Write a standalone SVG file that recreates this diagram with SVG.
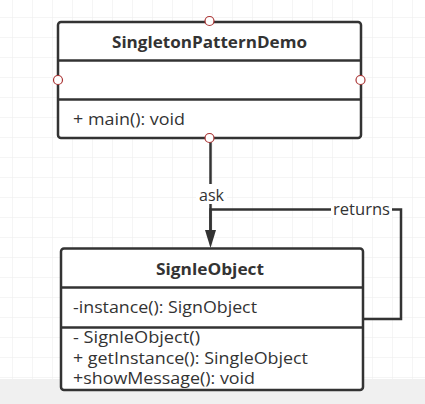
<svg xmlns="http://www.w3.org/2000/svg" width="425" height="404" viewBox="0 0 425 404">
<defs>
<pattern id="grid" x="12" y="17" width="20" height="20" patternUnits="userSpaceOnUse">
<path d="M0 0H20M0 0V20" fill="none" stroke="#ebebeb" stroke-width="1"/>
</pattern>
<marker id="arrow" markerWidth="18" markerHeight="11" refX="0" refY="5.5" orient="auto" markerUnits="userSpaceOnUse" viewBox="0 0 18 11">
<path d="M0 0L18 5.5L0 11Z" fill="#333"/>
</marker>
<style>
.box{fill:#fff;stroke:#333;stroke-width:2.5}
.div{stroke:#333;stroke-width:2.5}
.title{font-family:"Open Sans","Noto Sans",sans-serif;font-weight:bold;font-size:16.5px;fill:#333;text-anchor:middle}
.txt{font-family:"Open Sans","Noto Sans",sans-serif;font-size:16px;fill:#333}
.lbl{font-family:"Open Sans","Noto Sans",sans-serif;font-size:16.5px;fill:#333;text-anchor:middle}
.pt{fill:#fff;stroke:#a33;stroke-width:1.2}
.conn{fill:none;stroke:#333;stroke-width:2.5}
</style>
</defs>
<rect width="425" height="404" fill="#fff"/>
<rect width="425" height="379" fill="url(#grid)"/>
<rect y="379" width="425" height="25" fill="#f0f0f0"/>
<g id="connectors">
<path class="conn" d="M210.5 138V230" marker-end="url(#arrow)"/>
<path class="conn" d="M363 319H401V209.5H210.5V230"/>
<rect x="196" y="184" width="31" height="20" fill="#fff"/>
<text class="lbl" x="211.5" y="201" textLength="25" lengthAdjust="spacingAndGlyphs">ask</text>
<rect x="331" y="200" width="61" height="18" fill="#fff"/>
<text class="lbl" x="361.5" y="215" textLength="57" lengthAdjust="spacingAndGlyphs">returns</text>
</g>
<g id="SingletonPatternDemo">
<rect class="box" x="58" y="22" width="303" height="116" rx="3"/>
<line class="div" x1="58" y1="60.5" x2="361" y2="60.5"/>
<line class="div" x1="58" y1="99.5" x2="361" y2="99.5"/>
<text class="title" x="209.5" y="47.5" textLength="195" lengthAdjust="spacingAndGlyphs">SingletonPatternDemo</text>
<text class="txt" x="73" y="125" textLength="112" lengthAdjust="spacingAndGlyphs">+ main(): void</text>
<circle class="pt" cx="209.5" cy="21" r="4.5"/>
<circle class="pt" cx="58" cy="80" r="4.5"/>
<circle class="pt" cx="360.5" cy="80" r="4.5"/>
<circle class="pt" cx="209.5" cy="138" r="4.5"/>
</g>
<g id="SignleObject">
<rect class="box" x="61" y="248.5" width="302" height="141.5" rx="3"/>
<line class="div" x1="61" y1="287.5" x2="363" y2="287.5"/>
<line class="div" x1="61" y1="327.5" x2="363" y2="327.5"/>
<text class="title" x="210" y="275" textLength="108" lengthAdjust="spacingAndGlyphs">SignleObject</text>
<text class="txt" x="73" y="312.5" textLength="184" lengthAdjust="spacingAndGlyphs">-instance(): SignObject</text>
<text class="txt" x="73" y="343" textLength="127" lengthAdjust="spacingAndGlyphs">- SignleObject()</text>
<text class="txt" x="73" y="364" textLength="235" lengthAdjust="spacingAndGlyphs">+ getInstance(): SingleObject</text>
<text class="txt" x="73" y="384" textLength="182" lengthAdjust="spacingAndGlyphs">+showMessage(): void</text>
</g>
</svg>
